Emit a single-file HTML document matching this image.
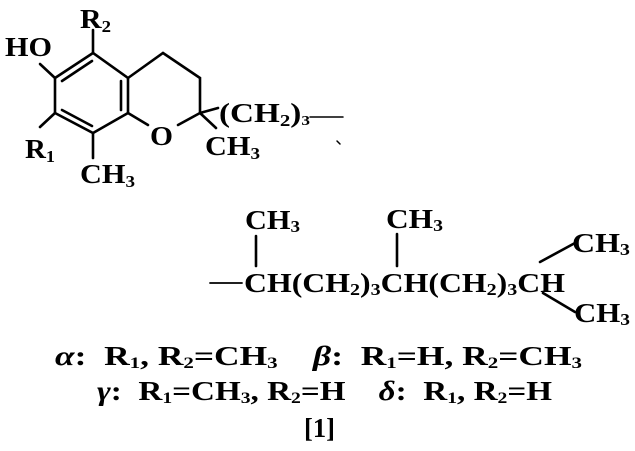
<!DOCTYPE html>
<html><head><meta charset="utf-8"><style>
html,body{margin:0;padding:0;background:#fff;width:635px;height:451px;overflow:hidden}
svg text{font-family:"Liberation Serif",serif;font-weight:bold;fill:#000;white-space:pre}
</style></head><body>
<svg width="635" height="451" viewBox="0 0 635 451" xmlns="http://www.w3.org/2000/svg">
<g stroke="#000" stroke-width="2.6" fill="none" stroke-linecap="round">
<polygon points="93,53 55,78 55,113 93,133 128,113 128,78"/>
<line x1="62" y1="81" x2="92" y2="61"/>
<line x1="62" y1="110" x2="92" y2="126"/>
<line x1="121" y1="81" x2="121" y2="110"/>
<polyline points="128,78 163,53 200,78 200,113 178,125"/>
<line x1="128" y1="113" x2="148" y2="125"/>
<line x1="200" y1="113" x2="218" y2="108"/>
<line x1="200" y1="113" x2="216" y2="128"/>
<line x1="93" y1="53" x2="93" y2="30"/>
<line x1="55" y1="78" x2="40" y2="64"/>
<line x1="55" y1="113" x2="40" y2="127"/>
<line x1="93" y1="133" x2="93" y2="158"/>
<line x1="310" y1="117" x2="343" y2="117" stroke-width="1.5"/>
<line x1="337" y1="141" x2="340" y2="144" stroke-width="1.5"/>
<line x1="210" y1="283" x2="242" y2="283" stroke-width="1.8"/>
<line x1="256" y1="236" x2="256" y2="266"/>
<line x1="397" y1="234" x2="397" y2="266"/>
<line x1="540" y1="262" x2="575" y2="243"/>
<line x1="543" y1="293" x2="575" y2="312"/>
</g>
<g font-size="27">
<text x="80" y="28" textLength="31" lengthAdjust="spacingAndGlyphs">R<tspan font-size="17" dy="4">2</tspan></text>
<text x="5" y="56" textLength="47" lengthAdjust="spacingAndGlyphs">HO</text>
<text x="25" y="158" textLength="30" lengthAdjust="spacingAndGlyphs">R<tspan font-size="17" dy="4">1</tspan></text>
<text x="80" y="183" textLength="55" lengthAdjust="spacingAndGlyphs">CH<tspan font-size="17" dy="4">3</tspan></text>
<text x="150" y="145" textLength="23" lengthAdjust="spacingAndGlyphs">O</text>
<text x="205" y="155" textLength="55" lengthAdjust="spacingAndGlyphs">CH<tspan font-size="17" dy="4">3</tspan></text>
<text x="219" y="122" textLength="91" lengthAdjust="spacingAndGlyphs">(CH<tspan font-size="17" dy="4">2</tspan><tspan dy="-4">)</tspan><tspan font-size="14" dy="3">3</tspan></text>
<text x="245" y="229" textLength="55" lengthAdjust="spacingAndGlyphs">CH<tspan font-size="17" dy="3">3</tspan></text>
<text x="386" y="228" textLength="57" lengthAdjust="spacingAndGlyphs">CH<tspan font-size="17" dy="3">3</tspan></text>
<text x="572" y="252" textLength="58" lengthAdjust="spacingAndGlyphs">CH<tspan font-size="17" dy="3">3</tspan></text>
<text x="574" y="322" textLength="56" lengthAdjust="spacingAndGlyphs">CH<tspan font-size="17" dy="3">3</tspan></text>
<text x="244" y="292" textLength="321" lengthAdjust="spacingAndGlyphs">CH(CH<tspan font-size="17" dy="3">2</tspan><tspan dy="-3">)</tspan><tspan font-size="17" dy="3">3</tspan><tspan dy="-3">CH(CH</tspan><tspan font-size="17" dy="3">2</tspan><tspan dy="-3">)</tspan><tspan font-size="17" dy="3">3</tspan><tspan dy="-3">CH</tspan></text>
<text x="55" y="365" textLength="527" lengthAdjust="spacingAndGlyphs"><tspan font-style="italic">α</tspan>:  R<tspan font-size="16" dy="3">1</tspan><tspan dy="-3">, R</tspan><tspan font-size="16" dy="3">2</tspan><tspan dy="-3">=CH</tspan><tspan font-size="16" dy="3">3</tspan><tspan dy="-3">    </tspan><tspan font-style="italic">β</tspan>:  R<tspan font-size="16" dy="3">1</tspan><tspan dy="-3">=H, R</tspan><tspan font-size="16" dy="3">2</tspan><tspan dy="-3">=CH</tspan><tspan font-size="16" dy="3">3</tspan></text>
<text x="97" y="400" textLength="455" lengthAdjust="spacingAndGlyphs"><tspan font-style="italic">γ</tspan>:  R<tspan font-size="16" dy="3">1</tspan><tspan dy="-3">=CH</tspan><tspan font-size="16" dy="3">3</tspan><tspan dy="-3">, R</tspan><tspan font-size="16" dy="3">2</tspan><tspan dy="-3">=H    </tspan><tspan font-style="italic">δ</tspan>:  R<tspan font-size="16" dy="3">1</tspan><tspan dy="-3">, R</tspan><tspan font-size="16" dy="3">2</tspan><tspan dy="-3">=H</tspan></text>
<text x="304" y="437" textLength="31" lengthAdjust="spacingAndGlyphs">[1]</text>
</g>
</svg>
</body></html>
